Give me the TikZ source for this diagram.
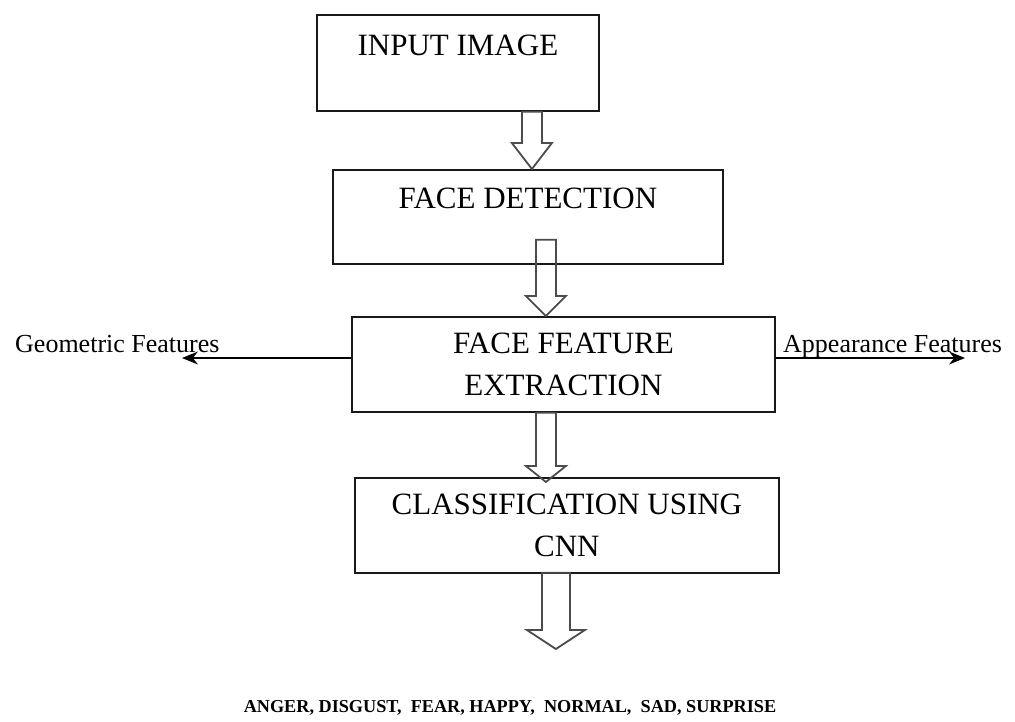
\documentclass[tikz,border=0pt]{standalone}
\usepackage{fontspec}
\setmainfont{Liberation Serif}
\usetikzlibrary{positioning, calc, arrows.meta}
\tikzstyle{stage} = [rectangle,
minimum height=95pt,
inner sep=0pt,
anchor=north west,
draw=black!90,
line width=1.8pt]
\tikzstyle{stagetext} = [font=\fontsize{31}{42}\selectfont,
align=center,
inner sep=0pt]
\tikzstyle{sidetext} = [font=\fontsize{26}{30}\selectfont, inner sep=0pt, anchor=base west]
\tikzstyle{hollow} = [draw=black!70, line width=1.8pt, line join=miter]
\tikzstyle{sidearrow} = [line width=1.6pt, -{Stealth[length=16pt,width=13pt]}]
% open block arrow: top, tip, shaft half width, head half width, head length
\newcommand{\hollowarrow}[5]{%
  \draw[hollow] let \p1=(#1), \p2=(#2) in
    (\x1-#3,\y1) -- (\x1-#3,\y2+#5) -- (\x1-#4,\y2+#5) -- (\x1,\y2)
    -- (\x1+#4,\y2+#5) -- (\x1+#3,\y2+#5) -- (\x1+#3,\y1) -- cycle;}
\begin{document}
\begin{tikzpicture}[x=1pt, y=1pt]
			\useasboundingbox (0,0) rectangle (1015,-722);
			\node (input) [stage, minimum width=282pt, minimum height=96pt] at (316,-14) {};
			\node (detect) [stage, minimum width=390pt, minimum height=94pt] at (332,-169) {};
			\node (feature) [stage, minimum width=423pt] at (351,-316) {};
			\node (classify) [stage, minimum width=424pt] at (354,-477) {};

			\node (inputtxt) [stagetext, below=21pt of input.north] {INPUT IMAGE};
			\node (detecttxt) [stagetext, below=19pt of detect.north] {FACE DETECTION};
			\node (featuretxt) [stagetext, below=17pt of feature.north] {FACE FEATURE\\EXTRACTION};
			\node (classifytxt) [stagetext, below=17pt of classify.north] {CLASSIFICATION USING\\CNN};

			\node (geo) [sidetext] at (15,-352) {Geometric Features};
			\node (app) [sidetext] at (783,-352) {Appearance Features};
			\coordinate (geoend) at (182,-358);
			\coordinate (append) at (965,-358);
			\draw[sidearrow] (geoend -| feature.west) -- (geoend);
			\draw[sidearrow] (append -| feature.east) -- (append);

			\node (emotions) [font=\fontsize{18.2}{22}\selectfont\bfseries, inner sep=0pt, anchor=base] at (510,-712)
				{ANGER, DISGUST,\ \ FEAR, HAPPY,\ \ NORMAL,\ \ SAD, SURPRISE};
			\coordinate (outtip) at (555,-649);

			\hollowarrow{[xshift=74pt]input.south}{[xshift=4pt]detect.north}{10}{20}{26}
			\hollowarrow{[xshift=18pt,yshift=25pt]detect.south}{[xshift=-17.5pt]feature.north}{10}{20}{20}
			\hollowarrow{[xshift=-17.5pt]feature.south}{[xshift=-21pt,yshift=-5pt]classify.north}{10}{20}{16}
			\hollowarrow{[xshift=-11pt,yshift=1pt]classify.south}{outtip}{14}{29}{19}
		\end{tikzpicture}
\end{document}
